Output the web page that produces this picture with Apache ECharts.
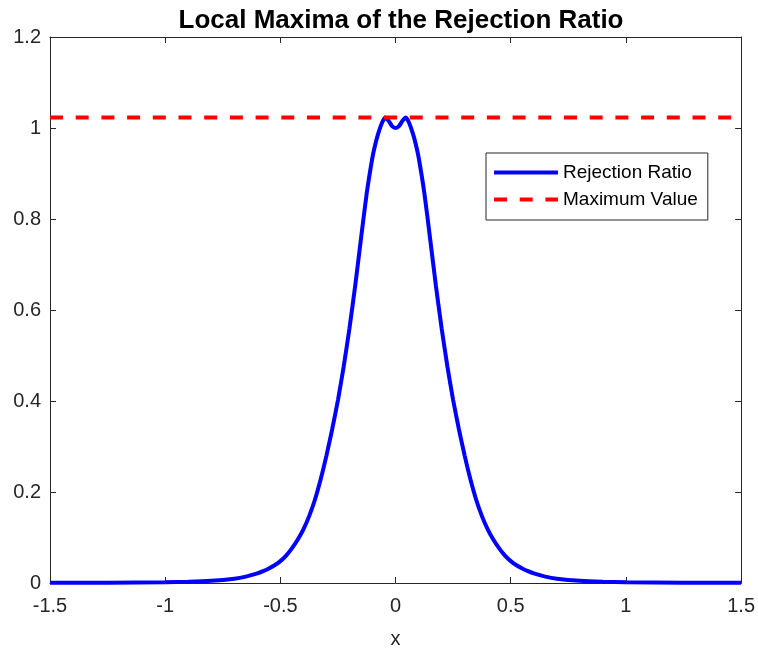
<!DOCTYPE html>
<html>
<head>
<meta charset="utf-8">
<script src="https://cdn.jsdelivr.net/npm/echarts@6/dist/echarts.min.js"></script>
<style>
  html, body { margin: 0; padding: 0; background: #fff; }
  #main { width: 758px; height: 654px; }
</style>
</head>
<body>
<div id="main"></div>
<script>
// values (left half, mirrored for the right half)
var xLeft = [-1.5, -1.25, -1.0, -0.9, -0.8, -0.7, -0.65, -0.6, -0.575, -0.55, -0.525, -0.5, -0.475, -0.45,
  -0.425, -0.4, -0.375, -0.35, -0.325, -0.3, -0.275, -0.25, -0.225, -0.2, -0.175, -0.15, -0.125, -0.1,
  -0.0875, -0.075, -0.06, -0.045, -0.03, -0.015, 0]
var yLeft = [0.0003, 0.0006, 0.0015, 0.0026, 0.0048, 0.0095, 0.014, 0.021, 0.026, 0.032, 0.039, 0.048, 0.060, 0.076,
  0.095, 0.118, 0.147, 0.183, 0.228, 0.280, 0.338, 0.402, 0.476, 0.560, 0.654, 0.757, 0.857, 0.936,
  0.965, 0.988, 1.010, 1.023, 1.016, 1.004, 1.0]
var maxValue = 1.023
var xTicks = [-1.5, -1, -0.5, 0, 0.5, 1, 1.5]
var yTicks = [0, 0.2, 0.4, 0.6, 0.8, 1, 1.2]

var ratioData = []
for (var i = 0; i < xLeft.length; i++) ratioData.push([xLeft[i], yLeft[i]])
for (var j = xLeft.length - 2; j >= 0; j--) ratioData.push([-xLeft[j], yLeft[j]])

var axisColor = '#262626'
var font = 'Liberation Sans, Arial, sans-serif'

function xAx(pos, labels){
    return {
        type: 'value', position: pos,
        min: xTicks[0], max: xTicks[xTicks.length - 1], interval: 0.5,
        axisLine: { show: true, onZero: false, lineStyle: { color: axisColor, width: 1 } },
        axisTick: { show: true, inside: true, length: 6, lineStyle: { color: axisColor } },
        axisLabel: { show: labels, color: axisColor, fontSize: 20, fontFamily: font, margin: 13 },
        splitLine: { show: false },
        name: labels ? 'x' : '', nameLocation: 'middle', nameGap: 46,
        nameTextStyle: { color: axisColor, fontSize: 20, fontFamily: font }
    }
}
function yAx(pos, labels){
    return {
        type: 'value', position: pos,
        min: yTicks[0], max: yTicks[yTicks.length - 1], interval: 0.2,
        axisLine: { show: true, onZero: false, lineStyle: { color: axisColor, width: 1 } },
        axisTick: { show: true, inside: true, length: 6, lineStyle: { color: axisColor } },
        axisLabel: { show: labels, color: axisColor, fontSize: 20, fontFamily: font, margin: 9 },
        splitLine: { show: false }
    }
}

var chart = echarts.init(document.getElementById('main'))
chart.setOption({
    backgroundColor: '#fff',
    animation: false,
    title: {
        text: 'Local Maxima of the Rejection Ratio',
        left: 396, top: 3, textAlign: 'center',
        textStyle: { fontSize: 26, fontWeight: 'bold', color: '#000', fontFamily: font }
    },
    grid: { left: 50, right: 14, top: 37, bottom: 68 },
    xAxis: [xAx('bottom', true), xAx('top', false)],
    yAxis: [yAx('left', true), yAx('right', false)],
    legend: {
        left: 486, top: 153, orient: 'vertical',
        itemWidth: 64, itemHeight: 14, itemGap: 8,
        padding: [10, 10, 11, 6],
        borderColor: axisColor, borderWidth: 1,
        backgroundColor: '#fff',
        itemStyle: { opacity: 0 },
        lineStyle: { width: 4 },
        textStyle: { fontSize: 19, color: '#000', fontFamily: font },
        data: ['Rejection Ratio', 'Maximum Value']
    },
    series: [
        {
            name: 'Rejection Ratio', type: 'line', xAxisIndex: 0, yAxisIndex: 0,
            data: ratioData, showSymbol: false, symbol: 'none', smooth: 0.2,
            lineStyle: { color: '#0000ff', width: 4 }, itemStyle: { color: '#0000ff' }
        },
        {
            name: 'Maximum Value', type: 'line', xAxisIndex: 0, yAxisIndex: 0,
            data: [[xTicks[0], maxValue], [xTicks[xTicks.length - 1], maxValue]],
            showSymbol: false, symbol: 'none', z: 3,
            lineStyle: { color: '#ff0000', width: 4, type: [13, 12.7] }, itemStyle: { color: '#ff0000' }
        }
    ]
})
</script>
</body>
</html>
